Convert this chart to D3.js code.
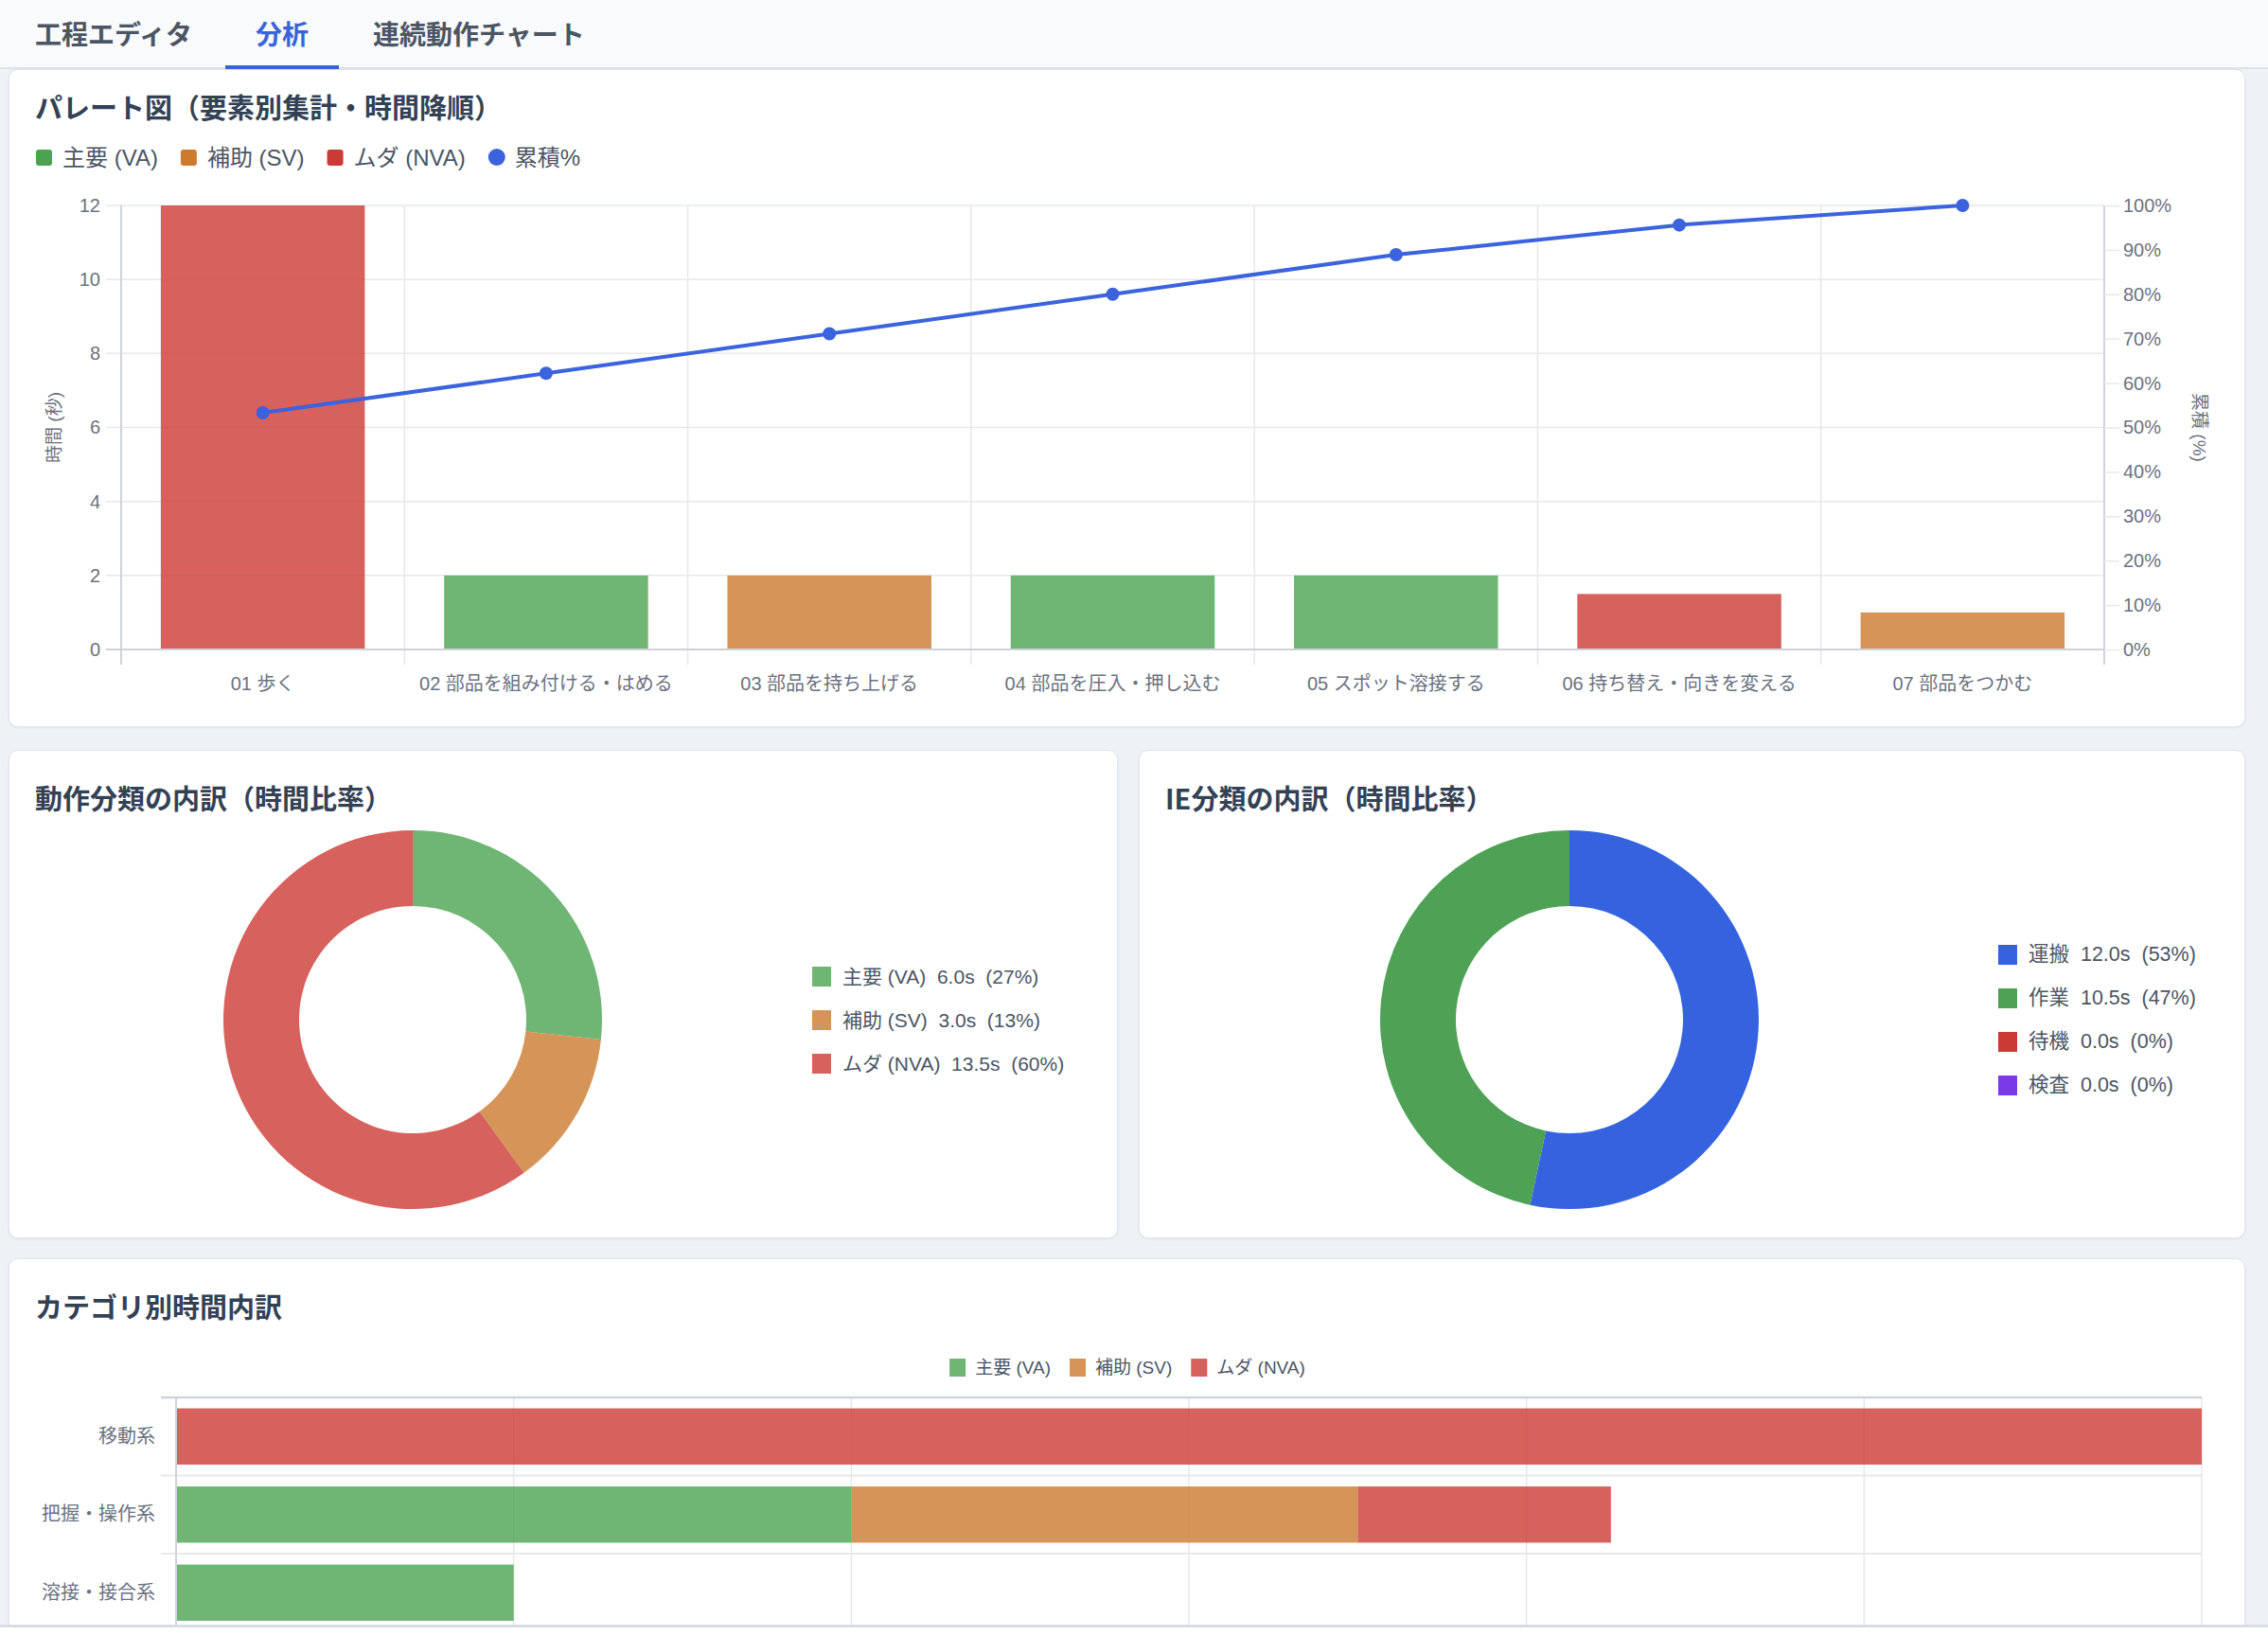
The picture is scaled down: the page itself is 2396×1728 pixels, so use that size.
<!doctype html>
<html>
<head>
<meta charset="utf-8">
<script src="https://cdn.jsdelivr.net/npm/d3@7/dist/d3.min.js"></script>
<style>
  body { margin:0; width:2396px; height:1728px; overflow:hidden; background:#eef1f5; }
  .tabs { position:absolute; left:0; top:0; width:2396px; height:71px; background:#f8fafc; border-bottom:2px solid #dde3ea; }
  .card { position:absolute; background:#fff; border:1px solid #e1e6ed; border-radius:10px; box-shadow:0 1px 3px rgba(15,23,42,0.06); box-sizing:border-box; }
  .foot { position:absolute; left:0; top:1716px; width:2396px; height:12px; background:#fff; border-top:3px solid #d8dde5; box-sizing:border-box; }
  #page { position:absolute; left:0; top:0; }
  text { font-family:"Liberation Sans","Noto Sans CJK JP",sans-serif; }
</style>
</head>
<body>
<div class="tabs"></div>
<div class="card" style="left:9px;top:73px;width:2363px;height:695px"></div>
<div class="card" style="left:9px;top:792px;width:1172px;height:516px"></div>
<div class="card" style="left:1203px;top:792px;width:1169px;height:516px"></div>
<div class="card" style="left:9px;top:1329px;width:2363px;height:520px"></div>
<div class="foot"></div>
<svg id="page" width="2396" height="1716"></svg>
<script>
  // ---- data ----
  var tabs = ["工程エディタ", "分析", "連続動作チャート"];

  var steps = ["01 歩く", "02 部品を組み付ける・はめる", "03 部品を持ち上げる", "04 部品を圧入・押し込む",
               "05 スポット溶接する", "06 持ち替え・向きを変える", "07 部品をつかむ"];
  var stepTimes = [12, 2, 2, 2, 2, 1.5, 1];
  var stepClass = ["NVA", "VA", "SV", "VA", "VA", "NVA", "SV"];
  var cumPct = [53.3, 62.2, 71.1, 80.0, 88.9, 95.6, 100];
  var timeTicks = [0, 2, 4, 6, 8, 10, 12];
  var pctTicks = [0, 10, 20, 30, 40, 50, 60, 70, 80, 90, 100];

  var classKeys = ["VA", "SV", "NVA"];
  var classLabels = ["主要 (VA)", "補助 (SV)", "ムダ (NVA)"];
  var classTimes = [6.0, 3.0, 13.5];
  var classPct = [27, 13, 60];

  var ieLabels = ["運搬", "作業", "待機", "検査"];
  var ieTimes = [12.0, 10.5, 0.0, 0.0];
  var iePct = [53, 47, 0, 0];

  var groups = ["移動系", "把握・操作系", "溶接・接合系"];
  var groupVA = [0, 4, 2];
  var groupSV = [0, 3, 0];
  var groupNVA = [12, 1.5, 0];

  // ---- colours ----
  var solid = { VA: "#4ba351", SV: "#cc7a2e", NVA: "#cc3a35" };
  var ieColors = ["#3563e0", "#4ea155", "#cc3a35", "#7b3ae8"];
  var lineColor = "#3b63dd";
  var tickColor = "#6b7280", gridColor = "#e6e8ec", axisColor = "#cfd3d9";

  var svg = d3.select("#page");

  // ---- tab bar ----
  var tabX = [37, 270, 394];
  svg.selectAll("text.tab").data(tabs).enter().append("text")
      .attr("x", (d, i) => tabX[i]).attr("y", 35)
      .attr("dominant-baseline", "central")
      .style("font-family", '"Noto Sans CJK JP"')
      .style("font-size", "28px").style("font-weight", 600)
      .style("fill", (d, i) => i == 1 ? "#3b63d9" : "#4b5563")
      .text(d => d);
  svg.append("rect").attr("x", 238).attr("y", 69).attr("width", 120).attr("height", 4).style("fill", "#3b63d9");

  function title(txt, x, y) {
    svg.append("text").attr("x", x).attr("y", y).attr("dominant-baseline", "central")
      .style("font-family", '"Noto Sans CJK JP"')
      .style("font-size", "29px").style("font-weight", 700).style("fill", "#334155")
      .text(txt);
  }
  title("パレート図（要素別集計・時間降順）", 37, 112);
  title("動作分類の内訳（時間比率）", 37, 842);
  title("IE分類の内訳（時間比率）", 1231, 842);
  title("カテゴリ別時間内訳", 37, 1379);

  // ================= Pareto =================
  var px0 = 128, px1 = 2223, py0 = 217, py1 = 686;
  var x = d3.scaleBand().domain(steps).range([px0, px1]);
  var yL = d3.scaleLinear().domain([0, 12]).range([py1, py0]);
  var yR = d3.scaleLinear().domain([0, 100]).range([py1, py0]);

  // legend
  var leg = svg.append("g");
  var lx = 38;
  classLabels.concat(["累積%"]).forEach(function(lbl, i) {
    if (i < 3) {
      leg.append("rect").attr("x", lx).attr("y", 158).attr("width", 17).attr("height", 17)
        .attr("rx", 3).style("fill", solid[classKeys[i]]);
    } else {
      leg.append("circle").attr("cx", lx + 9).attr("cy", 166).attr("r", 9).style("fill", lineColor);
    }
    var t = leg.append("text").attr("x", lx + 28).attr("y", 166).attr("dominant-baseline", "central")
      .style("font-size", "24px").style("fill", "#4b5563").text(lbl);
    lx += 28 + t.node().getComputedTextLength() + 24;
  });

  // grid
  var grid = svg.append("g");
  grid.selectAll("line.h").data(timeTicks).enter().append("line")
      .attr("x1", px0 - 16).attr("x2", px1)
      .attr("y1", d => yL(d)).attr("y2", d => yL(d))
      .style("stroke", gridColor).style("stroke-width", 1.5);
  var bounds = steps.map(d => x(d)).concat([px1]);
  grid.selectAll("line.v").data(bounds).enter().append("line")
      .attr("x1", d => d).attr("x2", d => d)
      .attr("y1", py0).attr("y2", py1 + 16)
      .style("stroke", gridColor).style("stroke-width", 1.5);

  // bars
  svg.append("g").selectAll("rect").data(steps).enter().append("rect")
      .attr("x", d => x(d) + x.bandwidth() * 0.14)
      .attr("width", x.bandwidth() * 0.72)
      .attr("y", (d, i) => yL(stepTimes[i]))
      .attr("height", (d, i) => py1 - yL(stepTimes[i]))
      .style("fill", (d, i) => solid[stepClass[i]])
      .style("fill-opacity", 0.8);

  // axis borders
  var ab = svg.append("g").style("stroke", axisColor).style("stroke-width", 2);
  ab.append("line").attr("x1", px0).attr("x2", px0).attr("y1", py0).attr("y2", py1 + 16);
  ab.append("line").attr("x1", px1).attr("x2", px1).attr("y1", py0).attr("y2", py1 + 16);
  ab.append("line").attr("x1", px0 - 16).attr("x2", px1).attr("y1", py1).attr("y2", py1);

  // axes
  var axL = svg.append("g").attr("transform", `translate(${px0},0)`)
      .call(d3.axisLeft(yL).tickValues(timeTicks).tickSize(0).tickPadding(22));
  var axR = svg.append("g").attr("transform", `translate(${px1},0)`)
      .call(d3.axisRight(yR).tickValues(pctTicks).tickSize(16).tickPadding(4).tickFormat(d => d + "%"));
  var axB = svg.append("g").attr("transform", `translate(0,${py1})`)
      .call(d3.axisBottom(x).tickSize(0).tickPadding(30));
  [axL, axR, axB].forEach(function(a) {
    a.select(".domain").remove();
    a.selectAll("line").style("stroke", gridColor).style("stroke-width", 1.5);
    a.selectAll("text").style("fill", tickColor).style("font-size", "20px")
      .style("font-family", '"Liberation Sans","Noto Sans CJK JP",sans-serif');
  });
  axB.selectAll("text").attr("dy", "0.35em").attr("y", 36);

  svg.append("text").attr("transform", `translate(57,${(py0 + py1) / 2}) rotate(-90)`)
      .attr("text-anchor", "middle").attr("dominant-baseline", "central")
      .style("font-size", "19px").style("fill", tickColor).text("時間 (秒)");
  svg.append("text").attr("transform", `translate(2323,${(py0 + py1) / 2}) rotate(90)`)
      .attr("text-anchor", "middle").attr("dominant-baseline", "central")
      .style("font-size", "19px").style("fill", tickColor).text("累積 (%)");

  // cumulative line
  var line = d3.line().x((d, i) => x(steps[i]) + x.bandwidth() / 2).y(d => yR(d));
  svg.append("path").datum(cumPct).attr("d", line)
      .style("fill", "none").style("stroke", lineColor).style("stroke-width", 4);
  svg.append("g").selectAll("circle").data(cumPct).enter().append("circle")
      .attr("cx", (d, i) => x(steps[i]) + x.bandwidth() / 2)
      .attr("cy", d => yR(d)).attr("r", 7)
      .style("fill", lineColor);

  // ================= Donuts =================
  var pie = d3.pie().sort(null).value(d => d);
  var arc = d3.arc().innerRadius(120).outerRadius(200);

  var d1 = svg.append("g").attr("transform", "translate(436,1077)");
  d1.selectAll("path").data(pie(classTimes)).enter().append("path")
      .attr("d", arc)
      .style("fill", (d, i) => solid[classKeys[i]]).style("fill-opacity", 0.8);

  var l1 = svg.append("g");
  classLabels.forEach(function(lbl, i) {
    var cy = 1031 + i * 46;
    l1.append("rect").attr("x", 858).attr("y", cy - 10).attr("width", 20).attr("height", 21)
      .style("fill", solid[classKeys[i]]).style("fill-opacity", 0.8);
    l1.append("text").attr("x", 890).attr("y", cy).attr("dominant-baseline", "central")
      .style("white-space", "pre").style("font-size", "21px").style("fill", "#4b5563")
      .text(`${lbl}  ${classTimes[i].toFixed(1)}s  (${classPct[i]}%)`);
  });

  var d2 = svg.append("g").attr("transform", "translate(1658,1077)");
  d2.selectAll("path").data(pie(ieTimes)).enter().append("path")
      .attr("d", arc)
      .style("fill", (d, i) => ieColors[i]);

  var l2 = svg.append("g");
  ieLabels.forEach(function(lbl, i) {
    var cy = 1008 + i * 46;
    l2.append("rect").attr("x", 2111).attr("y", cy - 10).attr("width", 20).attr("height", 21)
      .style("fill", ieColors[i]);
    l2.append("text").attr("x", 2143).attr("y", cy).attr("dominant-baseline", "central")
      .style("white-space", "pre").style("font-size", "21.5px").style("fill", "#4b5563")
      .text(`${lbl}  ${ieTimes[i].toFixed(1)}s  (${iePct[i]}%)`);
  });

  // ================= Category stacked bars =================
  var bx0 = 186, bx1 = 2326, by0 = 1476, by1 = 1723.5;
  var xB = d3.scaleLinear().domain([0, 12]).range([bx0, bx1]);
  var yB = d3.scaleBand().domain(groups).range([by0, by1]);

  // legend (centered)
  var lg = svg.append("g");
  var cx = 0;
  classLabels.forEach(function(lbl, i) {
    lg.append("rect").attr("x", cx).attr("y", -9).attr("width", 17).attr("height", 19)
      .style("fill", solid[classKeys[i]]).style("fill-opacity", 0.8);
    var t = lg.append("text").attr("x", cx + 27).attr("y", 0).attr("dominant-baseline", "central")
      .style("font-size", "19px").style("fill", "#4b5563").text(lbl);
    cx += 27 + t.node().getComputedTextLength() + 20;
  });
  lg.attr("transform", `translate(${1191 - (cx - 20) / 2},1444)`);

  var g4 = svg.append("g");
  g4.selectAll("line.v").data(timeTicks).enter().append("line")
      .attr("x1", d => xB(d)).attr("x2", d => xB(d))
      .attr("y1", by0).attr("y2", by1 + 16)
      .style("stroke", gridColor).style("stroke-width", 1.5);
  var rowBounds = groups.map(d => yB(d)).concat([by1]);
  g4.selectAll("line.h").data(rowBounds).enter().append("line")
      .attr("x1", bx0 - 16).attr("x2", bx1)
      .attr("y1", d => d).attr("y2", d => d)
      .style("stroke", (d, i) => i == 0 ? axisColor : gridColor)
      .style("stroke-width", (d, i) => i == 0 ? 2.5 : 2);

  var table = groups.map((g, i) => ({ group: g, VA: groupVA[i], SV: groupSV[i], NVA: groupNVA[i] }));
  var stacked = d3.stack().keys(classKeys)(table);
  svg.append("g").selectAll("g").data(stacked).enter().append("g")
      .style("fill", d => solid[d.key]).style("fill-opacity", 0.8)
    .selectAll("rect").data(d => d.filter(s => s[1] > s[0])).enter().append("rect")
      .attr("x", d => xB(d[0]))
      .attr("width", d => xB(d[1]) - xB(d[0]))
      .attr("y", d => yB(d.data.group) + yB.bandwidth() * 0.14)
      .attr("height", yB.bandwidth() * 0.72);

  svg.append("line").attr("x1", bx0).attr("x2", bx0).attr("y1", by0).attr("y2", by1 + 16)
      .style("stroke", axisColor).style("stroke-width", 2);

  var axG = svg.append("g").attr("transform", `translate(${bx0},0)`)
      .call(d3.axisLeft(yB).tickSize(0).tickPadding(22));
  axG.select(".domain").remove();
  axG.selectAll("text").style("fill", tickColor).style("font-size", "20px");
</script>
</body>
</html>
